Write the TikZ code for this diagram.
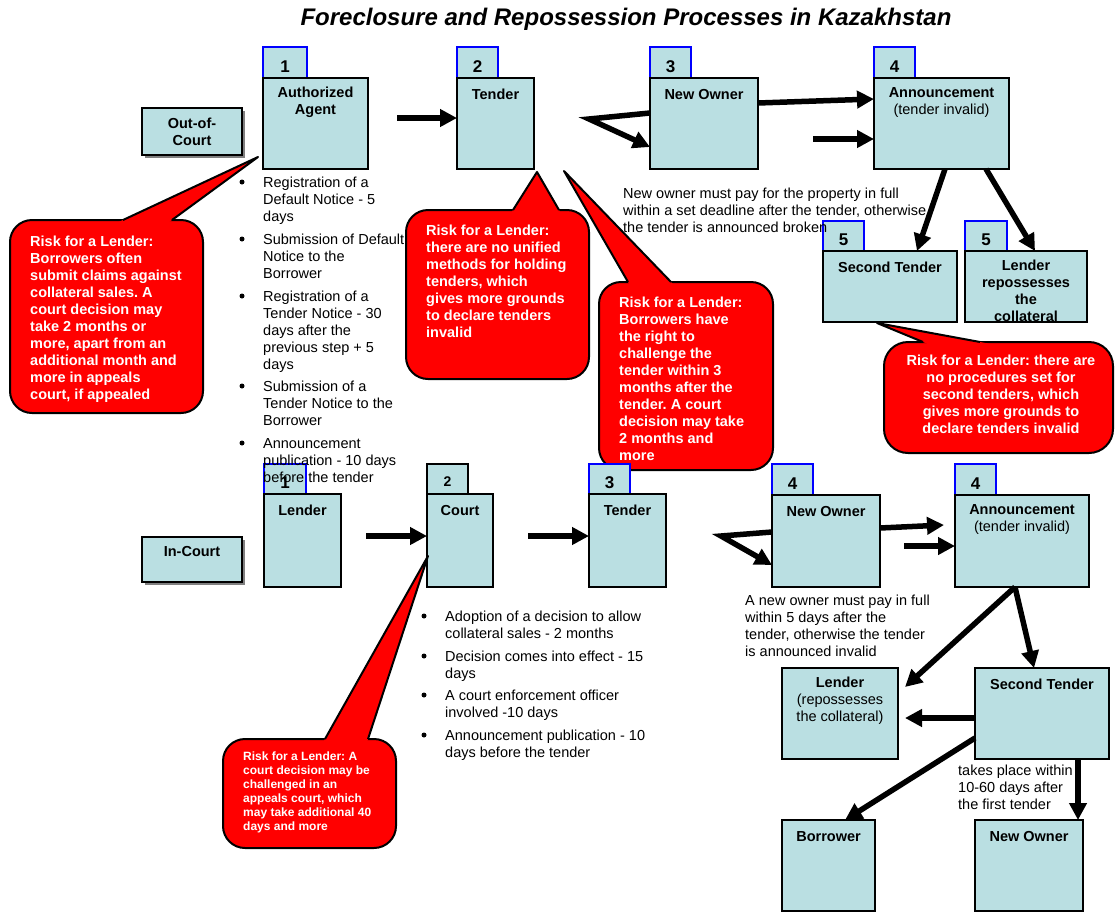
\documentclass[tikz,border=0pt]{standalone}
\usepackage{fontspec}
\setmainfont{Liberation Sans}
\usetikzlibrary{arrows.meta,calc,shadows}
\frenchspacing
\definecolor{boxblue}{RGB}{186,223,226}
\definecolor{tabblue}{RGB}{0,0,255}
\definecolor{riskred}{RGB}{255,0,0}
\definecolor{shadowgray}{RGB}{128,128,128}
\newcommand\nfont{\fontsize{14.5}{17}\selectfont}
\newcommand\sfont{\fontsize{12}{14}\selectfont}
% rectangle node given by its corners: [style]{x0}{y0}{x1}{y1}{name}
\newcommand\mkbox[6][box]{%
  \node[#1, minimum width={#4-#2}, minimum height={#5-#3}] (#6) at ({(#2+#4)/2},{(#3+#5)/2}) {};}
% risk bubble: name, x0, y0, x1, y1, tip, base x left, base x right, corner radius
\newcommand\callout[9]{%
  \node[riskbody, rounded corners=#9, minimum width={#4-#2}, minimum height={#5-#3}] (#1) at ({(#2+#4)/2},{(#3+#5)/2}) {};
  \fill[riskred] ($(#6)!1.12!(#7,#3)$) -- (#6) -- ($(#6)!1.12!(#8,#3)$) -- cycle;
  \draw[line width=2pt, line join=round] (#7,#3) -- (#6) -- (#8,#3);}
\begin{document}
\begin{tikzpicture}[x=1pt,y=-1pt,
  box/.style={draw=black,line width=2pt,fill=boxblue,inner sep=0pt,outer sep=0pt},
  tabbox/.style={box,draw=tabblue},
  shadowbox/.style={box,drop shadow={shadow xshift=3pt,shadow yshift=-3pt,fill=shadowgray,opacity=1}},
  tabnum/.style={font=\fontsize{17}{20}\selectfont\bfseries,anchor=base,inner sep=0pt},
  smallnum/.style={tabnum,font=\fontsize{14}{17}\selectfont\bfseries},
  ttl/.style={font=\nfont\bfseries,align=center,anchor=north,inner sep=0pt,execute at begin node=\strut},
  txtblock/.style={font=\nfont,align=left,anchor=north west,inner sep=0pt,execute at begin node=\strut},
  risktext/.style={txtblock,font=\nfont\bfseries,text=white},
  riskbody/.style={draw=black,line width=2pt,fill=riskred,inner sep=0pt,outer sep=0pt},
  flowarrow/.style={line width=5.5pt,-{Triangle[length=17pt,width=17pt]}},
  bulletdot/.style={circle,fill=black,inner sep=0pt,minimum size=5pt},
]
\useasboundingbox (0,0) rectangle (1115,913);

% heading
\node[font=\fontsize{24}{28}\selectfont\bfseries\itshape,anchor=base,inner sep=0pt] (title) at (626,25)
  {Foreclosure and Repossession Processes in Kazakhstan};

% ---------- out-of-court procedure ----------
\mkbox[shadowbox]{142}{108}{242}{155}{ooc}
\node[ttl] (ooct) at ($(ooc.north)+(0,10)$) {Out-of-\\Court};

\mkbox[tabbox]{263}{47}{307}{78}{t1}
\mkbox{263}{78}{368}{169}{a1}
\node[tabnum] (n1) at ($(t1.south)+(0,-6)$) {1};
\node[ttl] (a1t) at ($(a1.north)+(0,9)$) {Authorized\\Agent};

\mkbox[tabbox]{457}{47}{498}{78}{t2}
\mkbox{457}{78}{534}{169}{a2}
\node[tabnum] (n2) at ($(t2.south)+(0,-6)$) {2};
\node[ttl] (a2t) at ($(a2.north)+(0,9)$) {Tender};

\mkbox[tabbox]{650}{47}{691}{78}{t3}
\mkbox{650}{78}{758}{169}{a3}
\node[tabnum] (n3) at ($(t3.south)+(0,-6)$) {3};
\node[ttl] (a3t) at ($(a3.north)+(0,9)$) {New Owner};

\mkbox[tabbox]{874}{47}{915}{78}{t4}
\mkbox{874}{78}{1009}{169}{a4}
\node[tabnum] (n4) at ($(t4.south)+(0,-6)$) {4};
\node[ttl] (a4t) at ($(a4.north)+(0,9)$) {Announcement\\\textnormal{(tender invalid)}};

\mkbox[tabbox]{823}{221}{864}{251}{t5}
\mkbox{823}{251}{957}{322}{a5}
\node[tabnum] (n5) at ($(t5.south)+(0,-6)$) {5};
\node[ttl] (a5t) at ($(a5.north)+(0,9)$) {Second Tender};

\mkbox[tabbox]{965}{221}{1007}{251}{t6}
\mkbox{965}{251}{1087}{322}{a6}
\node[tabnum] (n6) at ($(t6.south)+(0,-6)$) {5};
\begin{scope}
  \clip (966,252) rectangle (1086,321);
  \node[ttl] (a6t) at ($(a6.north)+(0,9)$) {Lender\\repossesses\\the\\collateral};
\end{scope}

% risk bubbles of the out-of-court procedure
\coordinate (p1) at ($(a1.north west)+(-5,79)$);
\callout{r1}{10}{220}{203}{413}{p1}{123}{172}{22}
\begin{scope}
  \clip (10,220) rectangle (203,402);
  \node[risktext] (r1t) at (30,236) {Risk for a Lender:\\Borrowers often\\submit claims against\\collateral sales. A\\court decision may\\take 2 months or\\more, apart from an\\additional month and\\more in appeals\\court, if appealed};
\end{scope}

\coordinate (p2) at ($(a2.south east)+(3,3)$);
\callout{r2}{406}{210}{589}{379}{p2}{513}{559}{22}
\node[risktext] (r2t) at (426,225) {Risk for a Lender:\\there are no unified\\methods for holding\\tenders, which\\gives more grounds\\to declare tenders\\invalid};

\coordinate (p3) at ($(a2.south east)+(30,2)$);
\callout{r3}{599}{282}{773}{470}{p3}{628}{671}{22}
\node[risktext] (r3t) at (619,297) {Risk for a Lender:\\Borrowers have\\the right to\\challenge the\\tender within 3\\months after the\\tender. A court\\decision may take\\2 months and\\more};

\coordinate (p4) at ($(a5.south west)+(54,1)$);
\callout{r4}{884}{342}{1113}{453}{p4}{923}{980}{24}
\node[risktext,align=center,anchor=north] (r4t) at (1001,355) {Risk for a Lender: there are\\no procedures set for\\second tenders, which\\gives more grounds to\\declare tenders invalid};

% ---------- in-court procedure ----------
\mkbox[shadowbox]{142}{537}{242}{582}{inc}
\node[ttl] (inct) at ($(inc.north)+(0,7)$) {In-Court};

\mkbox[tabbox]{264}{464}{306}{494}{u1}
\mkbox{264}{494}{341}{587}{b1}
\node[tabnum] (m1) at ($(u1.south)+(0,-6)$) {1};
\node[ttl] (b1t) at ($(b1.north)+(0,9)$) {Lender};

\mkbox{427}{464}{468}{494}{u2}
\mkbox{427}{494}{493}{587}{b2}
\node[smallnum] (m2) at ($(u2.south)+(0,-8)$) {2};
\node[ttl] (b2t) at ($(b2.north)+(0,9)$) {Court};

\mkbox[tabbox]{589}{464}{630}{494}{u3}
\mkbox{589}{494}{666}{587}{b3}
\node[tabnum] (m3) at ($(u3.south)+(0,-6)$) {3};
\node[ttl] (b3t) at ($(b3.north)+(0,9)$) {Tender};

\mkbox[tabbox]{772}{464}{813}{495}{u4}
\mkbox{772}{495}{880}{587}{b4}
\node[tabnum] (m4) at ($(u4.south)+(0,-6)$) {4};
\node[ttl] (b4t) at ($(b4.north)+(0,9)$) {New Owner};

\mkbox[tabbox]{955}{464}{996}{495}{u5}
\mkbox{955}{495}{1089}{587}{b5}
\node[tabnum] (m5) at ($(u5.south)+(0,-6)$) {4};
\node[ttl] (b5t) at ($(b5.north)+(0,9)$) {Announcement\\\textnormal{(tender invalid)}};

\mkbox{782}{668}{898}{759}{b6}
\node[ttl] (b6t) at ($(b6.north)+(0,9)$) {Lender\\\textnormal{(repossesses}\\\textnormal{the collateral)}};

\mkbox{975}{668}{1109}{759}{b7}
\node[ttl] (b7t) at ($(b7.north)+(0,9)$) {Second Tender};

\mkbox{782}{820}{875}{911}{b8}
\node[ttl] (b8t) at ($(b8.north)+(0,9)$) {Borrower};

\mkbox{975}{820}{1083}{911}{b9}
\node[ttl] (b9t) at ($(b9.north)+(0,9)$) {New Owner};

% ---------- connectors ----------
\coordinate (c1) at (397,118);
\draw[flowarrow] (c1) -- ($(a2.north west)+(0,40)$);
\coordinate (c2) at (589,119);
\draw[flowarrow,line join=miter] ($(a3.north west)+(0,35)$) -- (c2) -- ($(a3.north west)+(0,69)$);
\draw[flowarrow] ($(a3.north east)+(0,25)$) -- ($(a4.north west)+(0,21)$);
\coordinate (c3) at (813,139);
\draw[flowarrow] (c3) -- ($(a4.north west)+(0,61)$);
\draw[flowarrow] ($(a4.south west)+(71,0)$) -- ($(a5.north west)+(94,0)$);
\draw[flowarrow] ($(a4.south west)+(112,0)$) -- ($(a6.north west)+(70,0)$);

\coordinate (c4) at (366,536);
\draw[flowarrow] (c4) -- ($(b2.north west)+(0,42)$);
\coordinate (c5) at (528,536);
\draw[flowarrow] (c5) -- ($(b3.north west)+(0,42)$);
\coordinate (c6) at (721,536);
\draw[flowarrow,line join=miter] ($(b4.north west)+(0,37)$) -- (c6) -- ($(b4.north west)+(0,70)$);
\coordinate (c7) at (944,525);
\draw[flowarrow] ($(b4.north east)+(0,33)$) -- (c7);
\coordinate (c8) at (904,546);
\draw[flowarrow] (c8) -- ($(b5.north west)+(0,51)$);
\coordinate (c9) at (905,687);
\draw[flowarrow] ($(b5.south west)+(60,0)$) -- (c9);
\draw[flowarrow] ($(b5.south west)+(60,0)$) -- ($(b7.north west)+(59,0)$);
\coordinate (c10) at (905,718);
\draw[flowarrow] ($(b7.north west)+(0,50)$) -- (c10);
\draw[flowarrow] ($(b7.north west)+(0,70)$) -- ($(b8.north west)+(63,0)$);
\draw[flowarrow] ($(b7.south west)+(103,0)$) -- ($(b9.north west)+(103,0)$);

% ---------- step lists and notes ----------
\node[bulletdot] (d1) at (242,182) {};
\node[txtblock] (l1) at (263,177) {Registration of a\\Default Notice - 5\\days};
\node[bulletdot] (d2) at (242,239) {};
\node[txtblock] (l2) at (263,234) {Submission of Default\\Notice to the\\Borrower};
\node[bulletdot] (d3) at (242,296) {};
\node[txtblock] (l3) at (263,291) {Registration of a\\Tender Notice - 30\\days after the\\previous step + 5\\days};
\node[bulletdot] (d4) at (242,386) {};
\node[txtblock] (l4) at (263,381) {Submission of a\\Tender Notice to the\\Borrower};
\node[bulletdot] (d5) at (242,443) {};
\node[txtblock] (l5) at (263,438) {Announcement\\publication - 10 days\\before the tender};

\node[bulletdot] (e1) at (424,616) {};
\node[txtblock] (k1) at (445,611) {Adoption of a decision to allow\\collateral sales - 2 months};
\node[bulletdot] (e2) at (424,656) {};
\node[txtblock] (k2) at (445,651) {Decision comes into effect - 15\\days};
\node[bulletdot] (e3) at (424,695) {};
\node[txtblock] (k3) at (445,690) {A court enforcement officer\\involved -10 days};
\node[bulletdot] (e4) at (424,735) {};
\node[txtblock] (k4) at (445,730) {Announcement publication - 10\\days before the tender};

\node[txtblock] (note1) at (623,188) {New owner must pay for the property in full\\within a set deadline after the tender, otherwise\\the tender is announced broken};
\node[txtblock] (note2) at (745,595) {A new owner must pay in full\\within 5 days after the\\tender, otherwise the tender\\is announced invalid};
\node[txtblock] (note3) at (958,765) {takes place within\\10-60 days after\\the first tender};

% risk bubble of the in-court procedure
\coordinate (p5) at ($(b2.north west)+(1,62)$);
\callout{r5}{223}{739}{396}{848}{p5}{325}{368}{22}
\node[risktext,font=\sfont\bfseries,execute at begin node=\strut] (r5t) at (243,751.5) {Risk for a Lender: A\\court decision may be\\challenged in an\\appeals court, which\\may take additional 40\\days and more};

\end{tikzpicture}
\end{document}
